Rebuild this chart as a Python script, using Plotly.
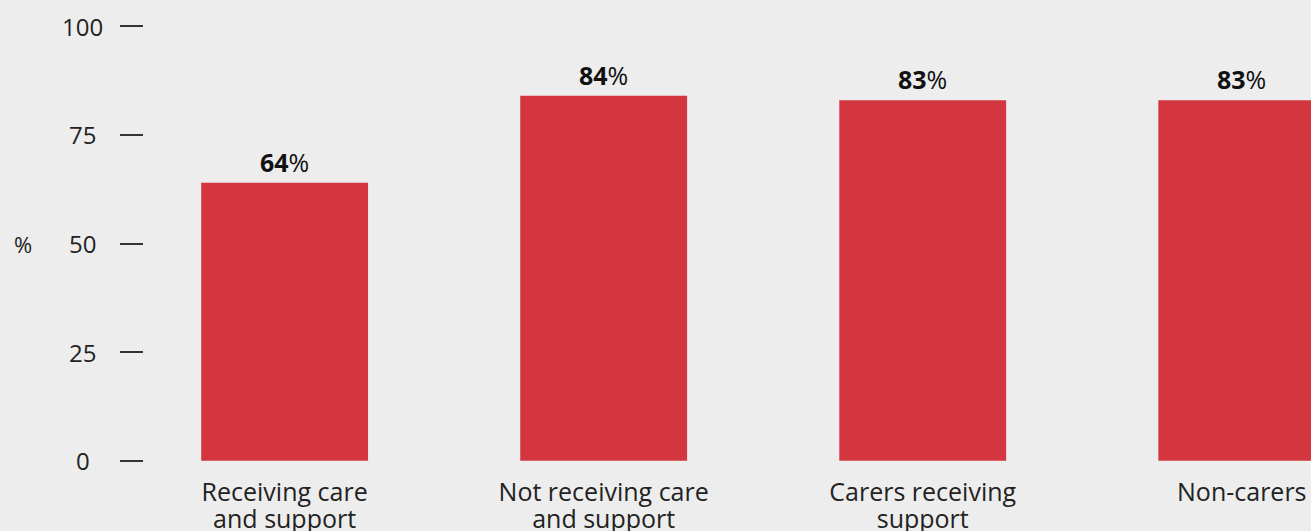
import plotly.graph_objects as go

cat_line1 = ["Receiving care", "Not receiving care", "Carers receiving", "Non-carers"]
cat_line2 = ["and support", "and support", "support", ""]
values = [64, 84, 83, 83]
tick_vals = [0, 25, 50, 75, 100]

BG = "#ededed"
BAR = "#d3363f"
TXT = "#222222"
FONT = "Open Sans"
FS = 24
FSX = 25

xs = list(range(len(values)))
PLOT_W = 1191

fig = go.Figure(go.Bar(
    x=xs,
    y=values,
    marker=dict(color=BAR, line=dict(width=0)),
    width=0.523,
))
# invisible trace to activate the second x-axis (second line of category labels)
fig.add_trace(go.Scatter(x=xs, y=values, xaxis="x2", mode="markers",
                         marker=dict(opacity=0), hoverinfo="skip", showlegend=False))

annotations = [
    dict(x=x, y=v, xref="x", yref="y", text=f"<b>{v}</b>%", showarrow=False,
         xanchor="center", yanchor="bottom", yshift=2,
         font=dict(family=FONT, size=25, color="#111111"))
    for x, v in zip(xs, values)
]
# centred y tick labels
annotations += [
    dict(x=(82.5 - 120) / PLOT_W, y=t, xref="paper", yref="y", text=str(t), showarrow=False,
         xanchor="center", yanchor="middle",
         font=dict(family=FONT, size=FS, color=TXT))
    for t in tick_vals
]
annotations.append(dict(text="%", x=(22.5 - 120) / PLOT_W, y=50, xref="paper", yref="y",
                        showarrow=False, font=dict(family=FONT, size=22, color=TXT),
                        xanchor="center", yanchor="middle"))

xrange = [-0.516, 3.217]
fig.update_layout(
    width=1311, height=531,
    paper_bgcolor=BG, plot_bgcolor=BG,
    margin=dict(l=120, r=0, t=22, b=66),
    showlegend=False,
    font=dict(family=FONT, color=TXT),
    xaxis=dict(
        tickmode="array", tickvals=xs, ticktext=cat_line1,
        range=xrange,
        showgrid=False, zeroline=False, showline=False, ticks="",
        tickfont=dict(family=FONT, size=FSX, color=TXT),
        ticklabelstandoff=10,
        automargin=False,
    ),
    xaxis2=dict(
        tickmode="array", tickvals=xs, ticktext=cat_line2,
        range=xrange, overlaying="x", side="bottom", anchor="y",
        showgrid=False, zeroline=False, showline=False, ticks="",
        tickfont=dict(family=FONT, size=FSX, color=TXT),
        ticklabelstandoff=10 + 27,
        automargin=False,
    ),
    yaxis=dict(
        range=[-1, 101], tickvals=tick_vals,
        showgrid=False, zeroline=False, showline=False,
        ticks="inside", ticklen=23, tickwidth=1.5, tickcolor="#333333",
        showticklabels=False,
        automargin=False,
    ),
    annotations=annotations,
)

fig.write_html("out.html")
